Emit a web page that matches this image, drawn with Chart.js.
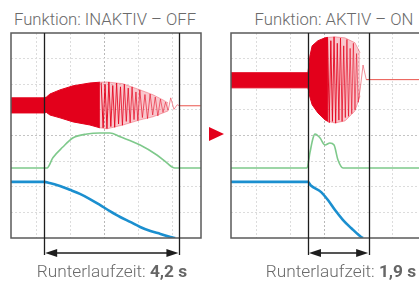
<!DOCTYPE html>
<html>
<head>
<meta charset="utf-8">
<script src="https://cdn.jsdelivr.net/npm/chart.js@4"></script>
<style>
  html, body { margin: 0; padding: 0; background: #fff; }
  body { width: 419px; height: 282px; position: relative; overflow: hidden; font-family: Roboto, "Liberation Sans", sans-serif; }
  canvas { position: absolute; top: 0; }
  .title, .label { position: absolute; color: #6a6a6a; font-weight: 300; text-align: center; white-space: nowrap; }
  .title { top: 12px; font-size: 16.7px; line-height: 16px; }
  .label { top: 263px; font-size: 17.3px; line-height: 16px; }
  .label b { font-weight: 700; color: #666; }
  #arrow { position: absolute; left: 209px; top: 127px; width: 0; height: 0;
           border-left: 15px solid #e3001b; border-top: 7.5px solid transparent; border-bottom: 7.5px solid transparent; }
</style>
</head>
<body>
<div class="title" style="left:5px;width:200px;">Funktion: INAKTIV – OFF</div>
<div class="title" style="left:234px;width:200px;">Funktion: AKTIV – ON</div>
<canvas id="off-chart" width="210" height="282" style="left:0"></canvas>
<canvas id="on-chart" width="211" height="282" style="left:210px"></canvas>
<div id="arrow"></div>
<div class="label" style="left:12px;width:200px;">Runterlaufzeit: <b>4,2 s</b></div>
<div class="label" style="left:241px;width:200px;">Runterlaufzeit: <b>1,9 s</b></div>
<script>
// time axis in seconds, amplitude in scope divisions (0..8)
const xGrid = [0.8, 1.85, 2.9, 3.95, 5.0];
const yGrid = [1, 2, 3, 4, 5, 6, 7];

// Funktion: INAKTIV - OFF
const offMarks = [1.03, 5.23];
const offDenseX = [0, 1.03, 1.1, 1.21, 1.52, 1.93, 2.45, 2.76];
const offDenseTop = [5.47, 5.47, 5.5, 5.62, 5.78, 5.94, 6.05, 6.08];
const offDenseBot = [4.88, 4.88, 4.9, 4.8, 4.69, 4.53, 4.41, 4.3];
const offFadeX = [2.76, 2.98, 3.48, 4.01, 4.41, 4.72, 4.88];
const offFadeTop = [6.08, 6.09, 6.02, 5.78, 5.59, 5.39, 5.27];
const offFadeBot = [4.3, 4.26, 4.41, 4.61, 4.73, 4.88, 4.96];
const offRingX = [2.8, 2.86, 2.92, 2.98, 3.04, 3.1, 3.16, 3.22, 3.28, 3.34, 3.4, 3.46, 3.52, 3.58, 3.64, 3.7,
                  3.76, 3.82, 3.88, 3.94, 4.0, 4.08, 4.16, 4.24, 4.32, 4.4, 4.48, 4.56, 4.64, 4.72, 4.8,
                  4.88, 4.96, 5.06, 5.16, 5.23, 5.9];
const offRingY = [6.06, 4.3, 6.0, 4.27, 6.09, 4.35, 5.95, 4.32, 6.05, 4.45, 5.9, 4.4, 6.0, 4.55, 5.85, 4.5,
                  5.9, 4.62, 5.7, 4.58, 5.78, 4.7, 5.6, 4.66, 5.62, 4.8, 5.5, 4.76, 5.42, 4.9, 5.3,
                  4.98, 5.47, 5.02, 5.2, 5.16, 5.16];
const offGreenX = [0, 1.12, 1.3, 1.61, 1.93, 2.36, 2.76, 3.07, 3.39, 4.01, 4.53, 4.84, 5.0, 5.09, 5.9];
const offGreenY = [2.73, 2.73, 3.13, 3.55, 3.91, 4.06, 4.1, 4.1, 3.95, 3.63, 3.24, 2.93, 2.77, 2.73, 2.73];
const offBlueX = [0, 1.03, 1.2, 1.52, 1.83, 2.14, 2.45, 2.76, 3.07, 3.39, 3.7, 4.01, 4.33, 4.64, 4.95, 5.1];
const offBlueY = [2.19, 2.19, 2.15, 2.03, 1.88, 1.72, 1.52, 1.29, 1.05, 0.82, 0.63, 0.43, 0.27, 0.16, 0.04, 0];

// Funktion: AKTIV - ON
const onMarks = [2.39, 4.29];
const onDenseX = [0, 2.39, 2.45, 2.52, 2.7, 2.92, 3.01];
const onDenseTop = [6.45, 6.45, 7.1, 7.5, 7.7, 7.81, 7.83];
const onDenseBot = [5.86, 5.86, 5.5, 5.2, 4.88, 4.61, 4.55];
const onFadeX = [3.01, 3.23, 3.54, 3.85, 4.01];
const onFadeTop = [7.83, 7.85, 7.81, 7.62, 7.23];
const onFadeBot = [4.55, 4.49, 4.57, 4.96, 5.55];
const onRingX = [3.0, 3.05, 3.1, 3.15, 3.2, 3.25, 3.3, 3.35, 3.4, 3.45, 3.5, 3.55, 3.6, 3.65, 3.7, 3.75,
                 3.8, 3.85, 3.9, 3.95, 4.02, 4.1, 4.2, 5.9];
const onRingY = [7.8, 4.5, 7.7, 4.55, 7.85, 4.48, 7.6, 4.6, 7.8, 4.55, 7.5, 4.7, 7.75, 4.75, 7.4, 4.85,
                 7.6, 5.0, 7.2, 5.3, 5.9, 6.75, 6.18, 6.18];
const onGreenX = [0, 2.36, 2.45, 2.55, 2.61, 2.76, 2.92, 3.07, 3.2, 3.32, 3.48, 5.9];
const onGreenY = [2.73, 2.73, 3.32, 3.91, 4.06, 3.91, 3.63, 3.71, 3.63, 3.05, 2.73, 2.73];
const onBlueX = [0, 2.39, 2.48, 2.8, 3.01, 3.23, 3.48, 3.73, 4.04, 4.1];
const onBlueY = [2.19, 2.19, 2.05, 1.79, 1.48, 1.09, 0.70, 0.39, 0.04, 0];

const red = '#e3001b';
const green = '#7ec98b';
const blue = '#1b8fcf';

function pts(xs, ys) {
    return xs.map((x, i) => ({ x: x, y: ys[i] }));
}

// ringing strokes get paler towards the end, the settled line stays red
function ringColor(ctx) {
    const n = ctx.chart.data.datasets[4].data.length;
    const i = ctx.p0DataIndex;
    if (i >= n - 2) return 'rgba(227,40,30,0.8)';
    const a = 0.95 - 0.55 * (i / (n - 2));
    return 'rgba(227,0,27,' + a.toFixed(2) + ')';
}

// box border, the two time markers and the double arrow underneath
const scopeFrame = {
    id: 'scopeFrame',
    afterDatasetsDraw(chart, args, opts) {
        const ctx = chart.ctx;
        const a = chart.chartArea;
        const xs = chart.scales.x;
        const arrowY = a.bottom + 15;
        const x1 = xs.getPixelForValue(opts.marks[0]);
        const x2 = xs.getPixelForValue(opts.marks[1]);
        ctx.save();
        ctx.strokeStyle = '#5a5a5a';
        ctx.lineWidth = 1.5;
        ctx.strokeRect(a.left, a.top, a.right - a.left, a.bottom - a.top);

        ctx.strokeStyle = '#1e1e1e';
        ctx.lineWidth = 1.3;
        ctx.beginPath();
        [x1, x2].forEach(x => {
            ctx.moveTo(Math.round(x) + 0.5, a.top);
            ctx.lineTo(Math.round(x) + 0.5, arrowY + 2);
        });
        ctx.moveTo(x1 + 6, arrowY);
        ctx.lineTo(x2 - 6, arrowY);
        ctx.stroke();

        ctx.fillStyle = '#1e1e1e';
        ctx.beginPath();
        ctx.moveTo(x1 + 1, arrowY);
        ctx.lineTo(x1 + 13, arrowY - 4);
        ctx.lineTo(x1 + 13, arrowY + 4);
        ctx.closePath();
        ctx.moveTo(x2 - 1, arrowY);
        ctx.lineTo(x2 - 13, arrowY - 4);
        ctx.lineTo(x2 - 13, arrowY + 4);
        ctx.closePath();
        ctx.fill();
        ctx.restore();
    }
};

function makeScope(id, pad, s) {
    const ctx = document.getElementById(id).getContext('2d');
    return new Chart(ctx, {
        type: 'line',
        data: {
            datasets: [
                { data: pts(s.denseX, s.denseTop), borderColor: red, borderWidth: 1, fill: false },
                { data: pts(s.denseX, s.denseBot), borderColor: red, borderWidth: 1, backgroundColor: red, fill: '-1' },
                { data: pts(s.fadeX, s.fadeTop), borderColor: 'rgba(227,0,27,0.3)', borderWidth: 1, fill: false },
                { data: pts(s.fadeX, s.fadeBot), borderColor: 'rgba(227,0,27,0.3)', borderWidth: 1, backgroundColor: 'rgba(227,0,27,0.22)', fill: '-1' },
                { data: pts(s.ringX, s.ringY), borderColor: red, borderWidth: 1, fill: false, segment: { borderColor: ringColor } },
                { data: pts(s.greenX, s.greenY), borderColor: green, borderWidth: 1.6, cubicInterpolationMode: 'monotone', fill: false },
                { data: pts(s.blueX, s.blueY), borderColor: blue, borderWidth: 2.6, cubicInterpolationMode: 'monotone', fill: false }
            ]
        },
        options: {
            responsive: false,
            animation: false,
            layout: { padding: pad },
            elements: { point: { radius: 0 }, line: { tension: 0 } },
            plugins: {
                legend: { display: false },
                tooltip: { enabled: false },
                scopeFrame: { marks: s.marks }
            },
            scales: {
                x: {
                    type: 'linear', min: 0, max: 5.9,
                    afterBuildTicks: axis => { axis.ticks = xGrid.map(v => ({ value: v })); },
                    ticks: { display: false },
                    border: { display: false, dash: [2, 2] },
                    grid: { drawTicks: false, lineWidth: 1, color: c => c.tick && c.tick.value === 2.9 ? '#b8b8b8' : '#dcdcdc' }
                },
                y: {
                    type: 'linear', min: 0, max: 8,
                    afterBuildTicks: axis => { axis.ticks = yGrid.map(v => ({ value: v })); },
                    ticks: { display: false },
                    border: { display: false, dash: [2, 2] },
                    grid: { drawTicks: false, lineWidth: 1, color: c => c.tick && c.tick.value === 4 ? '#c4c4c4' : '#dcdcdc' }
                }
            }
        },
        plugins: [scopeFrame]
    });
}

makeScope('off-chart', { left: 11, top: 33, right: 9, bottom: 44 }, {
    marks: offMarks,
    denseX: offDenseX, denseTop: offDenseTop, denseBot: offDenseBot,
    fadeX: offFadeX, fadeTop: offFadeTop, fadeBot: offFadeBot,
    ringX: offRingX, ringY: offRingY,
    greenX: offGreenX, greenY: offGreenY,
    blueX: offBlueX, blueY: offBlueY
});

makeScope('on-chart', { left: 21, top: 33, right: 0, bottom: 44 }, {
    marks: onMarks,
    denseX: onDenseX, denseTop: onDenseTop, denseBot: onDenseBot,
    fadeX: onFadeX, fadeTop: onFadeTop, fadeBot: onFadeBot,
    ringX: onRingX, ringY: onRingY,
    greenX: onGreenX, greenY: onGreenY,
    blueX: onBlueX, blueY: onBlueY
});
</script>
</body>
</html>
